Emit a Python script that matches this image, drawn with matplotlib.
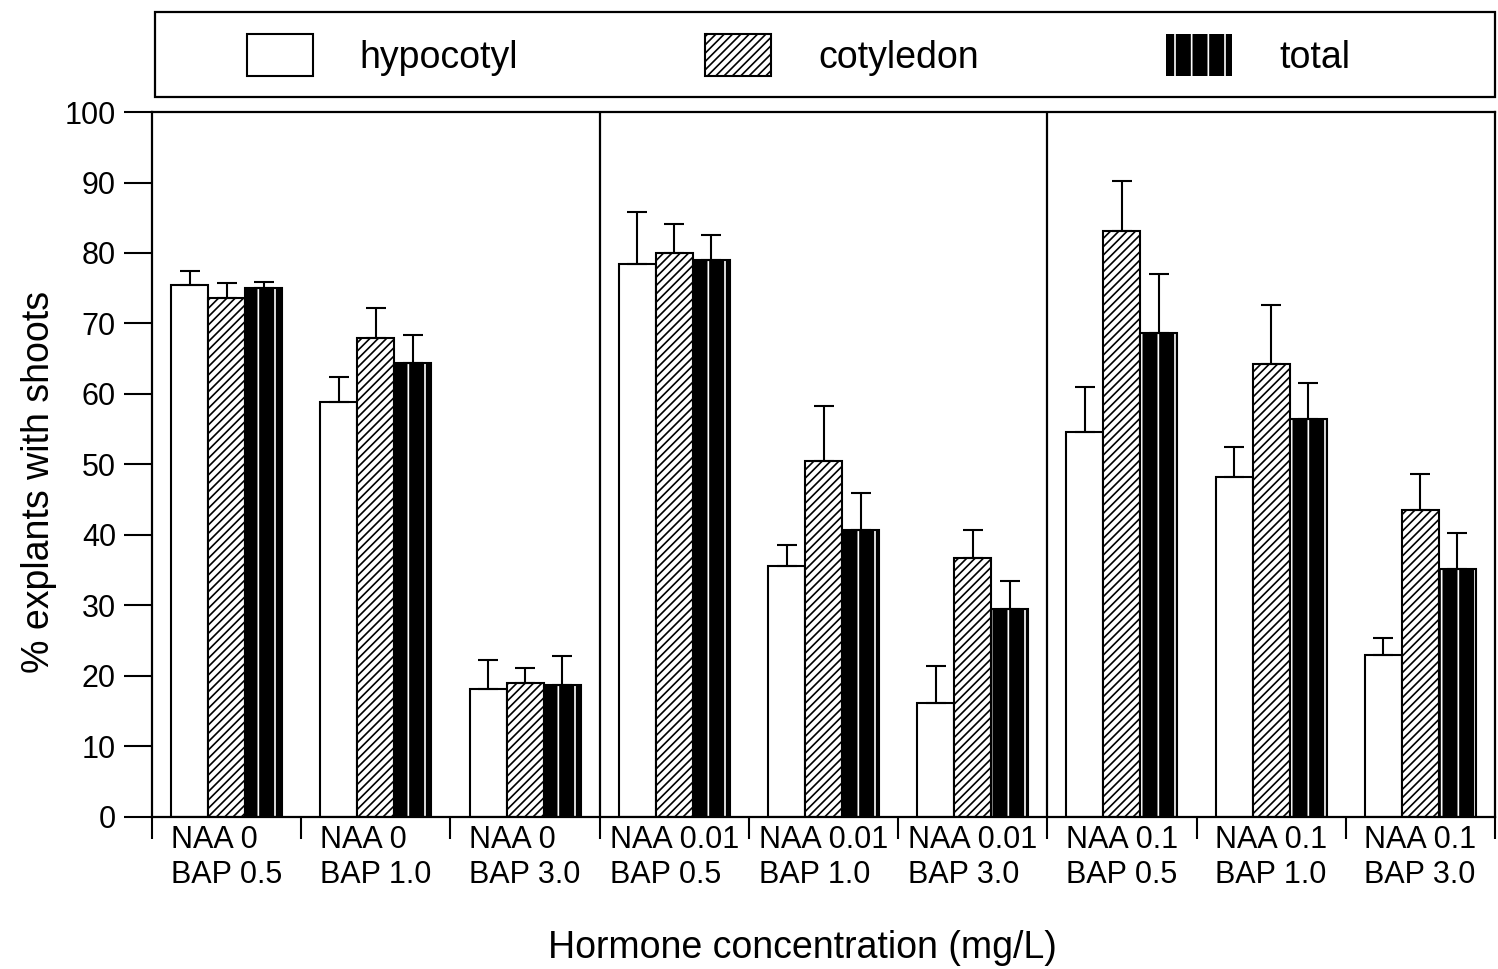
#!/usr/bin/env python

########################### import the packages ############################
import numpy as np
import matplotlib
matplotlib.use('Agg')
import matplotlib.pyplot as plt
from matplotlib.patches import Rectangle
from matplotlib.ticker import FixedLocator

########################### data ########################
groups = ['NAA 0\nBAP 0.5', 'NAA 0\nBAP 1.0', 'NAA 0\nBAP 3.0',
          'NAA 0.01\nBAP 0.5', 'NAA 0.01\nBAP 1.0', 'NAA 0.01\nBAP 3.0',
          'NAA 0.1\nBAP 0.5', 'NAA 0.1\nBAP 1.0', 'NAA 0.1\nBAP 3.0']

hypocotyl     = [75.5, 58.9, 18.2, 78.4, 35.6, 16.2, 54.6, 48.2, 23.0]
hypocotyl_err = [1.9, 3.5, 4.1, 7.4, 3.0, 5.2, 6.4, 4.3, 2.4]
cotyledon     = [73.6, 68.0, 19.0, 80.0, 50.5, 36.7, 83.1, 64.2, 43.5]
cotyledon_err = [2.1, 4.2, 2.1, 4.1, 7.8, 4.0, 7.1, 8.4, 5.1]
total         = [75.1, 64.4, 18.7, 79.0, 40.7, 29.5, 68.6, 56.5, 35.2]
total_err     = [0.8, 4.0, 4.1, 3.6, 5.3, 3.9, 8.4, 5.0, 5.1]

y_ticks = list(range(0, 101, 10))

########################### style ############################
graphic_font = 'Liberation Sans'
bar_width = 0.248
edge_width = 1.5
err_width = 1.5
capsize = 7.5
tick_labelsize = 22
label_fontsize = 27
legend_fontsize = 27
spine_width = 1.6

plt.rcParams['font.family'] = graphic_font
plt.rcParams['hatch.linewidth'] = 1.2

fig, ax = plt.subplots(figsize=(14.98, 9.69), dpi=100)
fig.subplots_adjust(left=0.1015, right=0.998, bottom=0.157, top=0.8844)

x = np.arange(len(groups))

b1 = ax.bar(x - bar_width, hypocotyl, bar_width, color='white',
            edgecolor='black', linewidth=edge_width, label='hypocotyl', zorder=2)
b2 = ax.bar(x, cotyledon, bar_width, color='white', edgecolor='black',
            hatch='////', linewidth=edge_width, label='cotyledon', zorder=2)
# black bars with thin white vertical streaks
b3 = ax.bar(x + bar_width, total, bar_width, color='black', edgecolor='white',
            hatch='|', linewidth=0, label='total', zorder=2)
ax.bar(x + bar_width, total, bar_width, fill=False, edgecolor='black',
       linewidth=edge_width, zorder=2)

zeros = np.zeros(len(groups))
for xs, vals, errs in [(x - bar_width, hypocotyl, hypocotyl_err),
                       (x, cotyledon, cotyledon_err),
                       (x + bar_width, total, total_err)]:
    ax.errorbar(xs, vals, yerr=[zeros, errs], fmt='none', ecolor='black',
                elinewidth=err_width, capsize=capsize, capthick=err_width, zorder=3)

# dividers between NAA levels
for xb in [2.5, 5.5]:
    ax.axvline(xb, color='black', linewidth=spine_width, zorder=1)

ax.set_xlim(-0.5, len(groups) - 0.5)
ax.set_ylim(0, 100)
ax.set_yticks(y_ticks)
ax.set_xticks(x, groups, multialignment='left')
ax.xaxis.set_minor_locator(FixedLocator(np.arange(-0.5, len(groups), 1.0)))

ax.tick_params(axis='y', which='major', direction='out', length=20, width=1.5,
               labelsize=tick_labelsize, pad=6)
ax.tick_params(axis='x', which='major', length=0, labelsize=tick_labelsize, pad=6)
ax.tick_params(axis='x', which='minor', direction='out', length=16, width=1.5)

for sp in ax.spines.values():
    sp.set_linewidth(spine_width)

ax.set_ylabel('% explants with shoots', fontsize=label_fontsize)
ax.yaxis.set_label_coords(-0.071, 0.475)
ax.set_xlabel('Hormone concentration (mg/L)', fontsize=label_fontsize)
ax.xaxis.set_label_coords(0.484, -0.16)

# legend box above the axes
fig.patches.append(Rectangle((0.1035, 0.8999), 0.8945, 0.0877, transform=fig.transFigure,
                             fill=False, edgecolor='black', linewidth=spine_width))
leg = fig.legend(handles=[b1, b2, b3], loc='center', bbox_to_anchor=(0.533, 0.943),
                 ncol=3, frameon=False, fontsize=legend_fontsize,
                 handlelength=1.76, handleheight=1.33, handletextpad=1.25,
                 columnspacing=5.0)

fig.savefig('out.png', dpi=100)
